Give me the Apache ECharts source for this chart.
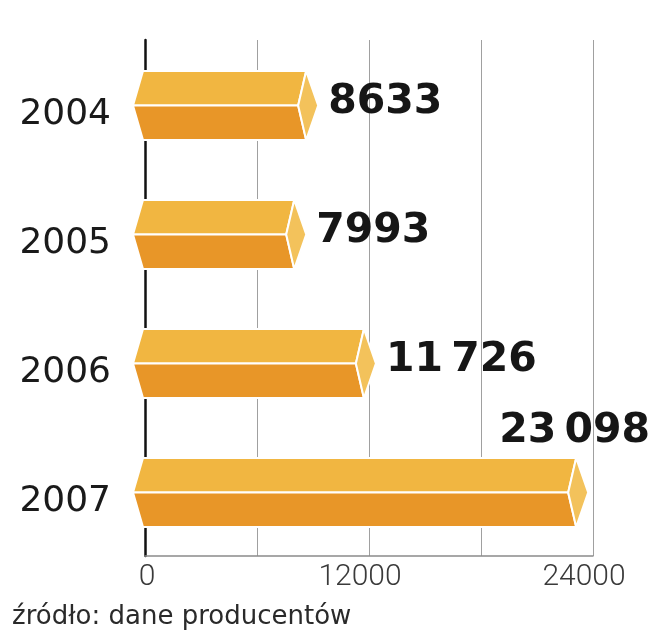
<!DOCTYPE html>
<html>
<head>
<meta charset="utf-8">
<script src="https://cdn.jsdelivr.net/npm/echarts@6/dist/echarts.min.js"></script>
<style>
html,body{margin:0;padding:0;background:#fff;}
#c{width:654px;height:640px;}
</style>
</head>
<body>
<div id="c"></div>
<script>
var years = ['2004', '2005', '2006', '2007'];
var values = [8633, 7993, 11726, 23098];
var tickLabels = ['0', '12000', '24000'];
var sourceText = 'źródło: dane producentów';

function fmt(v) {
  var s = String(v);
  if (v >= 10000) s = s.slice(0, s.length - 3) + '\u2009' + s.slice(s.length - 3);
  return s;
}

var chart = echarts.init(document.getElementById('c'), null, {renderer: 'canvas'});
var data = values.map(function (v, i) { return [v, i]; });

chart.setOption({
  backgroundColor: '#ffffff',
  animation: false,
  grid: {left: 145, right: 61, top: 40, bottom: 84, containLabel: false},
  xAxis: {
    type: 'value', min: 0, max: 24000, interval: 6000,
    axisLine: {show: true, lineStyle: {color: '#8a8a8a', width: 1.5}},
    axisTick: {show: false},
    splitLine: {show: true, lineStyle: {color: '#a0a0a0', width: 1}},
    axisLabel: {
      show: true, margin: 6,
      fontFamily: 'Roboto', fontWeight: 300, fontSize: 30, color: '#3a3a3a',
      formatter: function (v) {
        var s = String(v);
        if (tickLabels.indexOf(s) < 0) return '';
        return v === 0 ? '{z|' + s + '}' : '{n|' + s + '}';
      },
      rich: {
        z: {fontFamily: 'Roboto', fontWeight: 300, fontSize: 30, color: '#3a3a3a', padding: [0, 0, 0, 4]},
        n: {fontFamily: 'Roboto', fontWeight: 300, fontSize: 30, color: '#3a3a3a', padding: [0, 18, 0, 0]}
      }
    }
  },
  yAxis: {
    type: 'category', data: years, inverse: true,
    axisLine: {show: true, lineStyle: {color: '#111', width: 2.5}},
    axisTick: {show: false},
    splitLine: {show: false},
    axisLabel: {
      margin: 34, fontFamily: 'DejaVu Sans', fontSize: 36, color: '#1a1a1a',
      verticalAlign: 'top', lineHeight: 20
    }
  },
  series: [{
    type: 'custom',
    data: data,
    encode: {x: 0, y: 1},
    renderItem: function (params, api) {
      var v = api.value(0);
      var idx = api.value(1);
      var end = api.coord([v, idx]);
      var start = api.coord([0, idx]);
      var h = 69;
      var cy = end[1] + 1;
      var top = cy - h / 2, bot = cy + h / 2;
      var x0 = start[0];
      var leftTip = x0 - 12, leftC = x0 - 2;
      var xr = end[0];
      var inner = xr - 8, tip = xr + 12;
      var stroke = {stroke: '#ffffff', lineWidth: 2};
      var label = fmt(v);
      var fs = 41;
      var estW = label.length * 0.68 * fs;
      var tx, ty, align;
      if (tip + 11 + estW > 652) {
        tx = 650; ty = top - 27; align = 'right';
      } else {
        tx = tip + 10; ty = cy - 3; align = 'left';
      }
      return {
        type: 'group',
        children: [
          {type: 'polygon', shape: {points: [[leftTip, cy], [leftC, top], [xr, top], [inner, cy]]},
            style: Object.assign({fill: '#F1B641'}, stroke)},
          {type: 'polygon', shape: {points: [[leftTip, cy], [inner, cy], [xr, bot], [leftC, bot]]},
            style: Object.assign({fill: '#E89628'}, stroke)},
          {type: 'polygon', shape: {points: [[xr, top], [tip, cy], [xr, bot], [inner, cy]]},
            style: Object.assign({fill: '#F3C25B'}, stroke)},
          {type: 'text', x: tx, y: ty,
            style: {text: label, fontFamily: 'DejaVu Sans', fontWeight: 'bold', fontSize: fs,
              fill: '#161616', align: align, verticalAlign: 'middle'}}
        ]
      };
    }
  }],
  graphic: [{
    type: 'text', left: 12, top: 604,
    style: {text: sourceText, fontFamily: 'DejaVu Sans', fontSize: 26, fill: '#2a2a2a'}
  }]
});
</script>
</body>
</html>
